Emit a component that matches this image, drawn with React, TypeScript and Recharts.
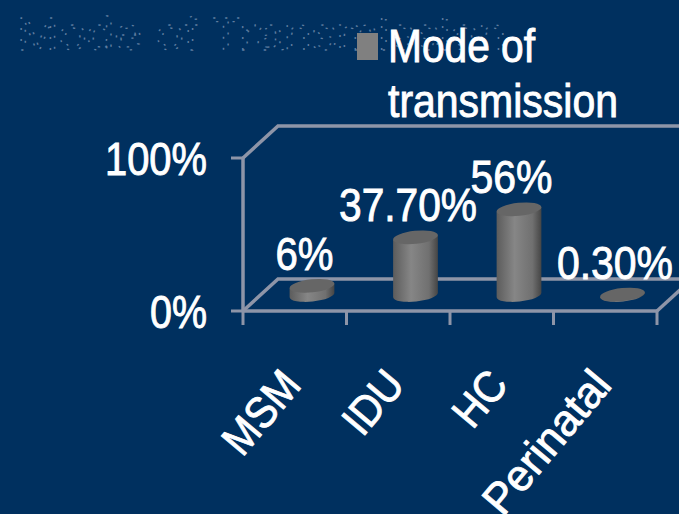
import React from 'react';
import { BarChart, Bar, XAxis, YAxis, Legend, LabelList, usePlotArea } from 'recharts';

const categories = ['MSM', 'IDU', 'HC', 'Perinatal'];
const values = [6, 37.7, 56, 0.3];
const valueLabels = ['6%', '37.70%', '56%', '0.30%'];
const valueLabelWidths = [58, 138, 82, 116];
const yTicks = [0, 100];
const yTickWidths: Record<number, number> = { 0: 57, 100: 102 };
const xTickWidths = [94, 68, 58, 172];
const seriesName = 'Mode of transmission';
const ghostTitle = 'Mode of Transmission';

const data = categories.map((name, i) => ({ name, value: values[i], label: valueLabels[i] }));

const BG = '#00305f';
const AXIS = '#8e95a8';
const DEPTH_X = 35;
const DEPTH_Y = 32;
const FONT = '"Liberation Sans", Arial, sans-serif';
const BOLDEN = { stroke: '#fff', strokeWidth: 0.9 };

// 3d floor and back wall, drawn from the plot area
function Walls() {
  const plot = usePlotArea();
  if (!plot) return null;
  const { x, y, width, height } = plot;
  const bottom = y + height;
  const right = x + width;
  const style = { stroke: AXIS, strokeWidth: 3.5, fill: 'none' };
  return (
    <g>
      <path d={`M${x},${y} L${x + DEPTH_X},${y - DEPTH_Y} L${right + DEPTH_X},${y - DEPTH_Y}`} {...style} />
      <path d={`M${x},${bottom} L${x + DEPTH_X},${bottom - DEPTH_Y} L${right + DEPTH_X},${bottom - DEPTH_Y}`} {...style} />
      <path d={`M${right},${bottom} L${right + DEPTH_X},${bottom - DEPTH_Y}`} {...style} />
      {categories.map((_, i) => i).concat(categories.length).map((i) => {
        const tx = x + (width * i) / categories.length;
        return <line key={i} x1={tx} x2={tx} y1={bottom} y2={bottom + 14} stroke={AXIS} strokeWidth={3} />;
      })}
    </g>
  );
}

function Cylinder(props: any) {
  const { x, y, width, height } = props;
  const cx = x + width / 2 + DEPTH_X / 2;
  const rx = width / 2;
  const ry = 6.5;
  const tilt = 6;
  const rad = (tilt * Math.PI) / 180;
  const dx = rx * Math.cos(rad);
  const dy = rx * Math.sin(rad);
  const top = y - DEPTH_Y / 2;
  const base = y + height - DEPTH_Y / 2;
  return (
    <g>
      <path
        d={`M${cx - dx},${top + dy} L${cx - dx},${base + dy} A${rx},${ry} ${-tilt} 0 0 ${cx + dx},${base - dy} L${cx + dx},${top - dy} Z`}
        fill="url(#cylBody)"
      />
      <ellipse cx={cx} cy={top} rx={rx} ry={ry} fill="#666" transform={`rotate(${-tilt} ${cx} ${top})`} />
    </g>
  );
}

function ValueLabel(props: any) {
  const { x, y, width, index } = props;
  return (
    <text
      x={x + width / 2 + 10}
      y={y - 32}
      textAnchor="middle"
      fontFamily={FONT}
      fontSize={46}
      fill="#fff"
      {...BOLDEN}
      textLength={valueLabelWidths[index]}
      lengthAdjust="spacingAndGlyphs"
    >
      {valueLabels[index]}
    </text>
  );
}

function YTick(props: any) {
  const { x, y, payload } = props;
  return (
    <text
      x={x - 22}
      y={y + 17}
      textAnchor="end"
      fontFamily={FONT}
      fontSize={46}
      fill="#fff"
      {...BOLDEN}
      textLength={yTickWidths[payload.value]}
      lengthAdjust="spacingAndGlyphs"
    >
      {payload.value}%
    </text>
  );
}

function XTick(props: any) {
  const { x, y, payload, index } = props;
  return (
    <text
      transform={`translate(${x + 8},${y + 67}) rotate(-50)`}
      textAnchor="end"
      fontFamily={FONT}
      fontSize={44}
      fill="#fff"
      {...BOLDEN}
      textLength={xTickWidths[index]}
      lengthAdjust="spacingAndGlyphs"
    >
      {payload.value}
    </text>
  );
}

function LegendBox() {
  return (
    <svg width={280} height={110} style={{ display: 'block' }}>
      <rect x={2} y={8} width={21} height={27} fill="#808080" />
      <text x={33} y={37} fontFamily={FONT} fontSize={46} fill="#fff" {...BOLDEN} textLength={147} lengthAdjust="spacingAndGlyphs">
        Mode of
      </text>
      <text x={33} y={92} fontFamily={FONT} fontSize={46} fill="#fff" {...BOLDEN} textLength={230} lengthAdjust="spacingAndGlyphs">
        transmission
      </text>
    </svg>
  );
}

export default function App() {
  return (
    <div style={{ position: 'absolute', left: 0, top: 0, width: 679, height: 514, background: BG, overflow: 'hidden' }}>
      <BarChart
        width={679}
        height={514}
        data={data}
        margin={{ top: 158, right: 22, bottom: 143, left: 183 }}
        barSize={45}
      >
        <defs>
          <linearGradient id="cylBody" x1="0" x2="1" y1="0" y2="0">
            <stop offset="0" stopColor="#5c5c5c" />
            <stop offset="0.4" stopColor="#868686" />
            <stop offset="0.8" stopColor="#707070" />
            <stop offset="1" stopColor="#454545" />
          </linearGradient>
        </defs>
        <text
          x={17}
          y={50}
          fontFamily={FONT}
          fontSize={46}
          fill="none"
          stroke="#5f7d9f"
          strokeWidth={1.3}
          strokeDasharray="2 9"
          textLength={489}
          lengthAdjust="spacingAndGlyphs"
        >
          {ghostTitle}
        </text>
        <Walls />
        <XAxis
          dataKey="name"
          height={60}
          interval={0}
          axisLine={{ stroke: AXIS, strokeWidth: 3.5 }}
          tickLine={false}
          tick={<XTick />}
        />
        <YAxis
          width={60}
          domain={[0, 100]}
          ticks={yTicks}
          axisLine={{ stroke: AXIS, strokeWidth: 3.5 }}
          tickLine={{ stroke: AXIS, strokeWidth: 3 }}
          tickSize={12}
          tick={<YTick />}
        />
        <Legend
          layout="vertical"
          align="center"
          verticalAlign="middle"
          wrapperStyle={{ left: 355, top: 25, width: 280, height: 110 }}
          content={<LegendBox />}
        />
        <Bar dataKey="value" name={seriesName} fill="#808080" shape={<Cylinder />} isAnimationActive={false}>
          <LabelList dataKey="label" content={<ValueLabel />} />
        </Bar>
      </BarChart>
    </div>
  );
}
